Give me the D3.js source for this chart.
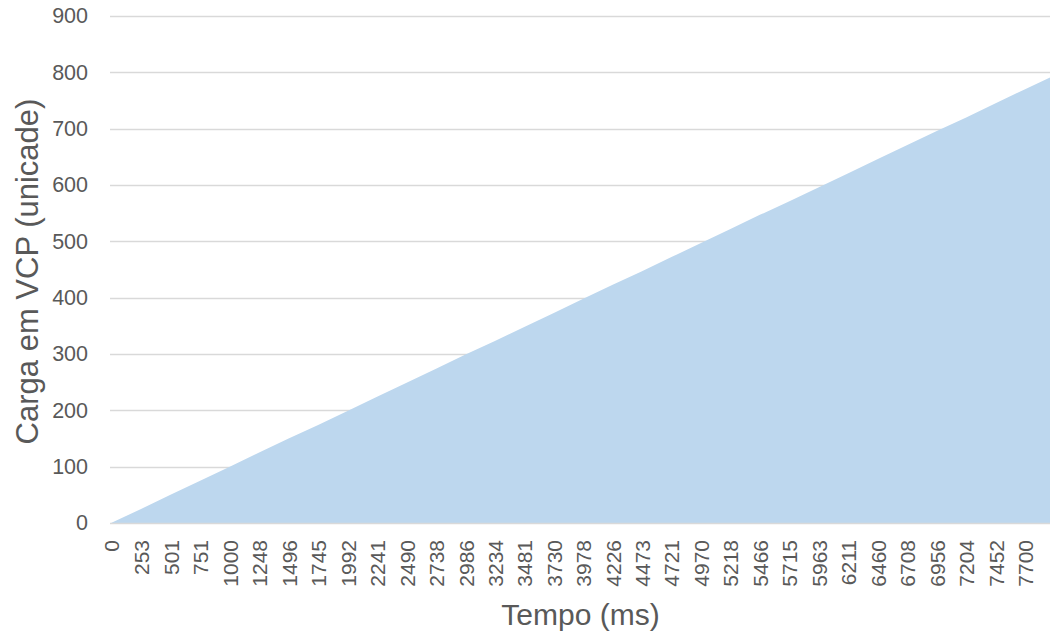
<!DOCTYPE html>
<html>
<head>
<meta charset="utf-8">
<script src="https://cdn.jsdelivr.net/npm/d3@7"></script>
<style>
  html, body { margin: 0; padding: 0; background: #fff; }
  svg { display: block; }
</style>
</head>
<body>
<svg id="chart" width="1052" height="636"></svg>
<script>
// Elapsed time (ms) at each sample, and the VCP load at that time
const tempo = [0, 253, 501, 751, 1000, 1248, 1496, 1745, 1992, 2241, 2490, 2738, 2986, 3234,
  3481, 3730, 3978, 4226, 4473, 4721, 4970, 5218, 5466, 5715, 5963, 6211, 6460, 6708, 6956,
  7204, 7452, 7700, 7910];
const carga = [0, 25, 50, 75, 100, 125, 150, 174, 199, 224, 249, 274, 299, 323,
  348, 373, 398, 423, 447, 472, 497, 522, 547, 571, 596, 621, 646, 671, 696,
  720, 745, 770, 791];

// Tick labels along each axis
const xTickLabels = [0, 253, 501, 751, 1000, 1248, 1496, 1745, 1992, 2241, 2490, 2738, 2986,
  3234, 3481, 3730, 3978, 4226, 4473, 4721, 4970, 5218, 5466, 5715, 5963, 6211, 6460, 6708,
  6956, 7204, 7452, 7700];
const yTicks = [0, 100, 200, 300, 400, 500, 600, 700, 800, 900];

const xTitle = "Tempo (ms)";
const yTitle = "Carga em VCP (unicade)";

const data = tempo.map((t, i) => ({ t, v: carga[i] }));

const svg = d3.select("#chart");
const plot = { left: 111, right: 1050, top: 16, bottom: 523 };

const x = d3.scaleLinear().domain([0, d3.max(tempo)]).range([plot.left, plot.right]);
const y = d3.scaleLinear().domain([0, 900]).range([plot.bottom, plot.top]);

const font = "'Liberation Sans', Arial, sans-serif";
const textColor = "#595959";

// Horizontal gridlines
svg.append("g")
  .selectAll("line")
  .data(yTicks.filter(d => d > 0))
  .join("line")
  .attr("x1", plot.left - 1).attr("x2", plot.right)
  .attr("y1", d => Math.round(y(d)) + 0.5).attr("y2", d => Math.round(y(d)) + 0.5)
  .attr("stroke", "#d9d9d9").attr("stroke-width", 1.3);

// Filled area under the load curve
const area = d3.area()
  .x(d => x(d.t))
  .y0(y(0))
  .y1(d => y(d.v));

svg.append("path")
  .datum(data)
  .attr("d", area)
  .attr("fill", "#bdd7ee");

// Baseline
svg.append("line")
  .attr("x1", plot.left - 1).attr("x2", plot.right)
  .attr("y1", Math.round(y(0)) + 0.5).attr("y2", Math.round(y(0)) + 0.5)
  .attr("stroke", "#d9d9d9").attr("stroke-width", 1.5);

// Y axis labels
const yAxis = d3.axisLeft(y).tickValues(yTicks).tickSize(0).tickPadding(23);
const gy = svg.append("g").attr("transform", `translate(${plot.left},0)`).call(yAxis);
gy.select(".domain").remove();
gy.selectAll("text")
  .attr("font-family", font).attr("font-size", 21.5).attr("fill", textColor);

// X axis labels, rotated
const xAxis = d3.axisBottom(x).tickValues(xTickLabels).tickFormat(d3.format("d")).tickSize(0);
const gx = svg.append("g").attr("transform", `translate(0,${plot.bottom})`).call(xAxis);
gx.select(".domain").remove();
gx.selectAll("text")
  .attr("font-family", font).attr("font-size", 21).attr("fill", textColor)
  .attr("text-anchor", "end")
  .attr("dy", "0.36em")
  .attr("transform", "translate(0,17) rotate(-90)")
  .attr("y", 0).attr("x", 0);

// Axis titles
svg.append("text")
  .attr("x", (plot.left + plot.right) / 2).attr("y", 625)
  .attr("text-anchor", "middle")
  .attr("font-family", font).attr("font-size", 30).attr("fill", textColor)
  .text(xTitle);

svg.append("text")
  .attr("transform", `translate(38,${(plot.top + plot.bottom) / 2 + 2}) rotate(-90)`)
  .attr("text-anchor", "middle")
  .attr("font-family", font).attr("font-size", 31).attr("fill", textColor)
  .text(yTitle);
</script>
</body>
</html>
